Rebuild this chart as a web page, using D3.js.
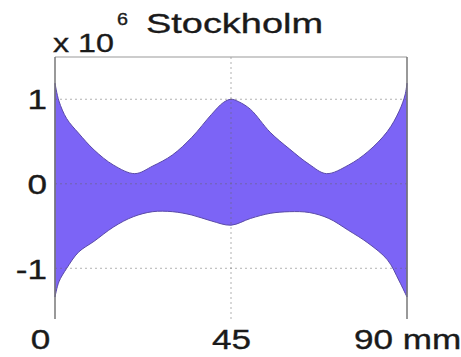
<!DOCTYPE html>
<html>
<head>
<meta charset="utf-8">
<script src="https://cdn.jsdelivr.net/npm/d3@7"></script>
<style>
  html, body { margin: 0; padding: 0; background: #fff; }
  svg { display: block; }
  text { font-family: "Liberation Sans", Arial, sans-serif; fill: #1a1a1a; stroke: #1a1a1a; stroke-width: 0.35; }
</style>
</head>
<body>
<svg id="chart" width="461" height="357"></svg>
<script>
// Envelope of the signal along the 90 mm span, in units of 10^6
const upperX = [0, 1, 3, 6, 10, 15, 20.4, 25, 30, 35, 40, 43, 45, 47, 50, 55, 60, 65, 69.4, 75, 80, 85, 88, 89.5, 90];
const upperY = [1.19, 0.98, 0.77, 0.60, 0.40, 0.22, 0.12, 0.21, 0.34, 0.55, 0.82, 0.96, 1.00, 0.97, 0.88, 0.61, 0.41, 0.23, 0.12, 0.22, 0.38, 0.62, 0.86, 1.05, 1.19];
const lowerX = [0, 1, 3, 6, 10, 15, 20, 25, 30, 35, 40, 45, 50, 55, 60, 65, 70, 75, 80, 85, 88, 90];
const lowerY = [-1.34, -1.16, -1.00, -0.81, -0.68, -0.51, -0.39, -0.33, -0.33, -0.37, -0.44, -0.49, -0.41, -0.35, -0.33, -0.34, -0.41, -0.55, -0.70, -0.90, -1.15, -1.34];

const xTicks = [0, 45, 90];
const xTickLabels = ["0", "45", "90 mm"];
const yTicks = [-1, 0, 1];
const yTickLabels = ["-1", "0", "1"];
const title = "Stockholm";

const svg = d3.select("#chart");
const x = d3.scaleLinear().domain([0, 90]).range([55, 407]);
const y = d3.scaleLinear().domain([-1.6, 1.5]).range([319, 57]);

const sx = 1.3; // horizontal stretch of the lettering

// filled envelope: upper edge left-to-right, lower edge back right-to-left
const upper = upperX.map((v, i) => [v, upperY[i]]);
const lower = lowerX.map((v, i) => [v, lowerY[i]]).reverse();
const line = d3.line().x(d => x(d[0])).y(d => y(d[1])).curve(d3.curveCatmullRom.alpha(0.5));
const pathD = line(upper) + line(lower).replace(/^M/, "L") + "Z";
svg.append("path")
  .attr("d", pathD)
  .attr("fill", "#7c64f6")
  .attr("stroke", "#5a4aa8")
  .attr("stroke-width", 1);

// dotted grid
const grid = svg.append("g").attr("stroke", "#666").attr("stroke-opacity", 0.5)
  .attr("stroke-dasharray", "2,3").attr("stroke-width", 1);
yTicks.forEach(t => grid.append("line")
  .attr("x1", x(0)).attr("x2", x(90)).attr("y1", y(t)).attr("y2", y(t)));
grid.append("line").attr("x1", x(45)).attr("x2", x(45)).attr("y1", y(1.5)).attr("y2", y(-1.6));

// frame
svg.append("line").attr("x1", x(0)).attr("x2", x(90)).attr("y1", y(1.5)).attr("y2", y(1.5))
  .attr("stroke", "#999").attr("stroke-width", 1);
[0, 90].forEach(v => svg.append("line")
  .attr("x1", x(v)).attr("x2", x(v)).attr("y1", y(1.5)).attr("y2", y(-1.6))
  .attr("stroke", "#777").attr("stroke-width", 1.5));

// axes (labels only)
const yAxis = d3.axisLeft(y).tickValues(yTicks).tickSize(0).tickPadding(0)
  .tickFormat((d, i) => yTickLabels[i]);
const gy = svg.append("g").attr("transform", "translate(47,0)").call(yAxis);
gy.select(".domain").remove();
gy.selectAll("text")
  .attr("font-size", 27).attr("fill", "#1a1a1a")
  .attr("font-family", "Liberation Sans, Arial, sans-serif")
  .attr("x", 0).attr("dy", "0.36em")
  .style("transform-box", "fill-box").style("transform-origin", "right center")
  .style("transform", `scaleX(${sx})`);

const xAxis = d3.axisBottom(x).tickValues(xTicks).tickSize(0).tickPadding(0)
  .tickFormat((d, i) => xTickLabels[i]);
const gx = svg.append("g").attr("transform", "translate(0,330)").call(xAxis);
gx.select(".domain").remove();
gx.selectAll("text")
  .attr("font-size", 27).attr("fill", "#1a1a1a")
  .attr("font-family", "Liberation Sans, Arial, sans-serif")
  .attr("dy", "0.71em")
  .attr("dx", (d, i) => i === 0 ? -15 : 0)
  .style("transform-box", "fill-box").style("transform-origin", "center")
  .style("transform", `scaleX(${sx})`);

// exponent and title
svg.append("text").attr("x", 53).attr("y", 52).attr("font-size", 26)
  .attr("textLength", 61).attr("lengthAdjust", "spacingAndGlyphs").text("x 10");
svg.append("text").attr("x", 117).attr("y", 25).attr("font-size", 17)
  .attr("textLength", 11).attr("lengthAdjust", "spacingAndGlyphs").text("6");
svg.append("text").attr("x", 146).attr("y", 33).attr("font-size", 28)
  .attr("textLength", 177).attr("lengthAdjust", "spacingAndGlyphs").text(title);
</script>
</body>
</html>
